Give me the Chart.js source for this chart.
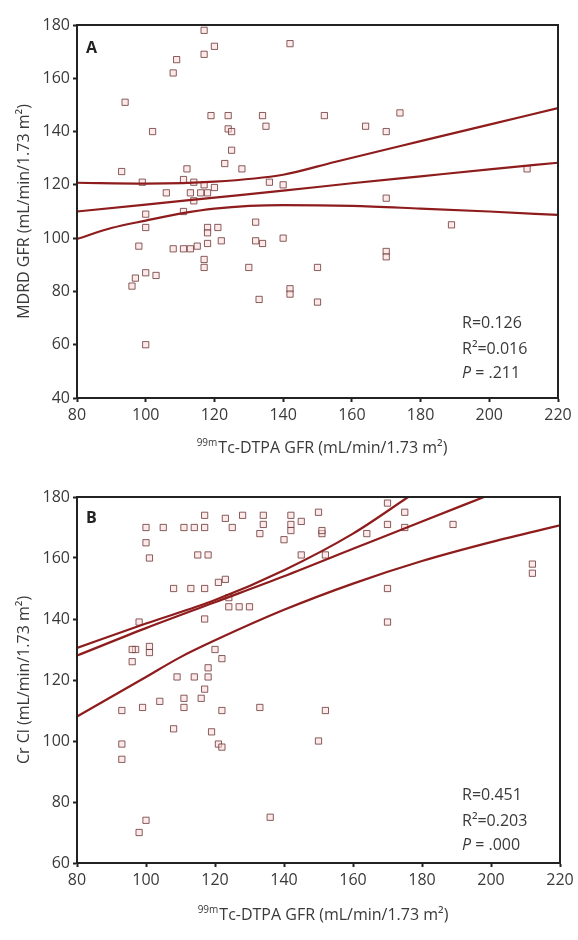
<!DOCTYPE html>
<html>
<head>
<meta charset="utf-8">
<script src="https://cdn.jsdelivr.net/npm/chart.js@4.4.1/dist/chart.umd.min.js"></script>
<style>
    html, body { margin: 0; padding: 0; background: #fff; }
    .panel { position: absolute; left: 0; width: 578px; }
    #wrapA { top: 0; height: 460px; }
    #wrapB { top: 460px; height: 480px; }
</style>
</head>
<body>
<div class="panel" id="wrapA"><canvas id="chartA"></canvas></div>
<div class="panel" id="wrapB"><canvas id="chartB"></canvas></div>
<script>
// ---- data ----
const xTicks = [80, 100, 120, 140, 160, 180, 200, 220];
const yTicksA = [40, 60, 80, 100, 120, 140, 160, 180];
const yTicksB = [60, 80, 100, 120, 140, 160, 180];

// panel A: 99mTc-DTPA GFR vs MDRD GFR
const aX = [117, 120, 117, 142, 109, 108, 94, 102, 119, 124, 134, 135, 124, 125, 152, 125, 123, 128, 112, 93,
    174, 164, 170, 211, 170, 99, 111, 114, 117, 106, 113, 116, 118, 114, 136, 140, 120,
    100, 100, 111, 118, 121, 118, 122, 118, 132, 134, 132, 140, 98, 108, 111, 113, 115, 117, 117, 130,
    103, 100, 97, 96, 133, 142, 142, 150, 150, 100, 189, 170, 170];
const aY = [178, 172, 169, 173, 167, 162, 151, 140, 146, 146, 146, 142, 141, 140, 146, 133, 128, 126, 126, 125,
    147, 142, 140, 126, 115, 121, 122, 121, 120, 117, 117, 117, 117, 114, 121, 120, 119,
    109, 104, 110, 104, 104, 102, 99, 98, 106, 98, 99, 100, 97, 96, 96, 96, 97, 92, 89, 89,
    86, 87, 85, 82, 77, 81, 79, 89, 76, 60, 105, 95, 93];

const aFitX = [80, 100, 120, 140, 160, 180, 200, 220];
const aFit = [110, 112.6, 115.2, 117.8, 120.6, 123.2, 125.8, 128.3];
const aUpX = [80, 100, 120, 140, 155, 180, 200, 220];
const aUp = [120.8, 120.5, 121.2, 123.8, 128.6, 136.4, 142.6, 148.8];
const aLoX = [80, 90, 100, 110, 120, 140, 160, 180, 200, 220];
const aLo = [99.7, 103.8, 106.6, 109.2, 111.1, 112.4, 112.1, 111.1, 110, 108.7];

// panel B: 99mTc-DTPA GFR vs Cr Cl
const bX = [117, 123, 128, 134, 142, 150, 145, 134, 142, 117, 114, 111, 105, 100, 125, 133, 142, 151, 140, 100,
    101, 115, 118, 145, 123, 121, 108, 113, 117, 124, 127, 130, 124, 98, 117, 101, 97, 120,
    170, 175, 170, 175, 189, 164, 151, 152, 212, 212, 170, 170,
    101, 96, 96, 122, 118, 109, 114, 118, 117, 116, 111, 111, 104, 99, 93, 122, 133, 152,
    108, 119, 121, 122, 150, 93, 93, 100, 98, 136];
const bY = [174, 173, 174, 174, 174, 175, 172, 171, 171, 170, 170, 170, 170, 170, 170, 168, 169, 168, 166, 165,
    160, 161, 161, 161, 153, 152, 150, 150, 150, 147, 144, 144, 144, 139, 140, 131, 130, 130,
    178, 175, 171, 170, 171, 168, 169, 161, 158, 155, 150, 139,
    129, 130, 126, 127, 124, 121, 121, 121, 117, 114, 114, 111, 113, 111, 110, 110, 111, 110,
    104, 103, 99, 98, 100, 99, 94, 74, 70, 75];

const bFitX = [80, 100, 120, 140, 160, 180, 198];
const bFit = [128, 137, 145.5, 154, 163, 172, 180];
const bUpX = [80, 100, 120, 140, 160, 176];
const bUp = [130.5, 138.5, 146.2, 156, 168, 180];
const bLoX = [80, 90, 100, 110, 120, 140, 160, 180, 200, 220];
const bLo = [108, 114.5, 121, 127.5, 133, 143, 151.6, 159, 165.2, 170.7];

const FONT = "'Open Sans', 'Noto Sans', sans-serif";
const TEXT = '#3a3a3a';

function pts(xs, ys) { return xs.map((x, i) => ({ x: x, y: ys[i] })); }

function lineSet(xs, ys) {
    return {
        type: 'line',
        data: pts(xs, ys),
        borderColor: '#8e1c1c',
        borderWidth: 2.2,
        pointRadius: 0,
        fill: false,
        cubicInterpolationMode: 'monotone',
        order: 0
    };
}

// draws the frame, panel letter, stats and the axis titles
const panelText = {
    id: 'panelText',
    afterDraw(chart, args, o) {
        const ctx = chart.ctx;
        const a = chart.chartArea;
        ctx.save();
        ctx.strokeStyle = '#222';
        ctx.lineWidth = 2;
        ctx.strokeRect(a.left, a.top, a.right - a.left, a.bottom - a.top);

        ctx.fillStyle = '#222';
        ctx.font = 'bold 16px ' + FONT;
        ctx.textBaseline = 'middle';
        ctx.textAlign = 'left';
        ctx.fillText(o.letter, a.left + 9, a.top + o.letterDy);

        ctx.fillStyle = TEXT;
        ctx.font = '16px ' + FONT;
        const sx = 462;
        ctx.fillText(o.r, sx, o.statY[0]);
        ctx.fillText('R²=' + o.r2, sx, o.statY[1]);
        ctx.font = 'italic 16px ' + FONT;
        ctx.fillText('P', sx, o.statY[2]);
        const pw = ctx.measureText('P').width;
        ctx.font = '16px ' + FONT;
        ctx.fillText(' = ' + o.p, sx + pw, o.statY[2]);

        // y title
        ctx.save();
        ctx.translate(24, (a.top + a.bottom) / 2);
        ctx.rotate(-Math.PI / 2);
        ctx.textAlign = 'center';
        ctx.fillText(o.yTitle, 0, 0);
        ctx.restore();

        // x title with superscript 99m
        const sup = '99m';
        const main = 'Tc-DTPA GFR (mL/min/1.73 m²)';
        ctx.font = '10px ' + FONT;
        const sw = ctx.measureText(sup).width;
        ctx.font = '16px ' + FONT;
        const mw = ctx.measureText(main).width;
        const x0 = (a.left + a.right) / 2 + 4 - (sw + mw) / 2;
        ctx.textAlign = 'left';
        ctx.fillText(main, x0 + sw + 1, o.xTitleY);
        ctx.font = '10px ' + FONT;
        ctx.fillText(sup, x0, o.xTitleY - 5);
        ctx.restore();
    }
};

function makeChart(id, cfg) {
    return new Chart(document.getElementById(id), {
        type: 'scatter',
        data: {
            datasets: [
                {
                    data: pts(cfg.xs, cfg.ys),
                    pointStyle: 'rect',
                    pointRadius: 4.4,
                    borderWidth: 1,
                    borderColor: 'rgba(105,55,55,0.8)',
                    backgroundColor: 'rgba(255,215,215,0.55)',
                    order: 1
                },
                lineSet(cfg.fitX, cfg.fit),
                lineSet(cfg.upX, cfg.up),
                lineSet(cfg.loX, cfg.lo)
            ]
        },
        options: {
            responsive: true,
            maintainAspectRatio: false,
            animation: false,
            layout: { padding: { top: cfg.padTop, right: cfg.padRight, left: 0, bottom: 0 } },
            plugins: {
                legend: { display: false },
                tooltip: { enabled: false },
                panelText: cfg.text
            },
            scales: {
                x: {
                    type: 'linear', min: 80, max: 220,
                    afterBuildTicks: s => { s.ticks = xTicks.map(v => ({ value: v })); },
                    afterFit: s => { s.height = cfg.xHeight; },
                    grid: { drawOnChartArea: false, tickLength: 4, tickColor: '#222', tickWidth: 2 },
                    border: { color: '#222', width: 2 },
                    ticks: { color: TEXT, font: { family: FONT, size: 16 }, padding: 4, maxRotation: 0 }
                },
                y: {
                    type: 'linear', min: cfg.yTicks[0], max: cfg.yTicks[cfg.yTicks.length - 1],
                    afterBuildTicks: s => { s.ticks = cfg.yTicks.map(v => ({ value: v })); },
                    afterFit: s => { s.width = 77; },
                    grid: { drawOnChartArea: false, tickLength: 4, tickColor: '#222', tickWidth: 2 },
                    border: { color: '#222', width: 2 },
                    ticks: { color: TEXT, font: { family: FONT, size: 16 }, padding: 3 }
                }
            }
        },
        plugins: [panelText]
    });
}

makeChart('chartA', {
    xs: aX, ys: aY, fitX: aFitX, fit: aFit, upX: aUpX, up: aUp, loX: aLoX, lo: aLo,
    yTicks: yTicksA, padTop: 25, padRight: 20, xHeight: 62,
    text: { letter: 'A', letterDy: 23, r: 'R=0.126', r2: '0.016', p: '.211',
            statY: [323, 349, 373], xTitleY: 448, yTitle: 'MDRD GFR (mL/min/1.73 m²)' }
});

makeChart('chartB', {
    xs: bX, ys: bY, fitX: bFitX, fit: bFit, upX: bUpX, up: bUp, loX: bLoX, lo: bLo,
    yTicks: yTicksB, padTop: 37, padRight: 18, xHeight: 77,
    text: { letter: 'B', letterDy: 21, r: 'R=0.451', r2: '0.203', p: '.000',
            statY: [335, 361, 385], xTitleY: 455, yTitle: 'Cr Cl (mL/min/1.73 m²)' }
});
</script>
</body>
</html>
